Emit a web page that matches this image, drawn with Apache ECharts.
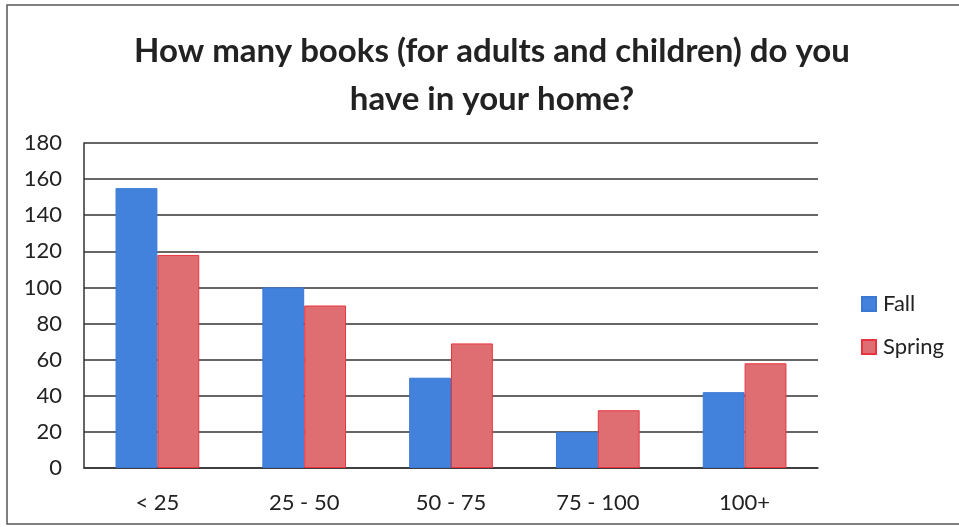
<!DOCTYPE html>
<html>
<head>
<meta charset="utf-8">
<script src="https://cdn.jsdelivr.net/npm/echarts@6/dist/echarts.min.js"></script>
<style>
html,body{margin:0;padding:0;background:#fff;}
#c{width:959px;height:527px;}
</style>
</head>
<body>
<div id="c"></div>
<script>
const categories = ['< 25', '25 - 50', '50 - 75', '75 - 100', '100+'];
const fallValues = [155, 100, 50, 20, 42];
const springValues = [118, 90, 69, 32, 58];
const yTicks = [0, 20, 40, 60, 80, 100, 120, 140, 160, 180];
const titleText = 'How many books (for adults and children) do you\nhave in your home?';

const chart = echarts.init(document.getElementById('c'));
const font = 'Lato, "Open Sans", sans-serif';
chart.setOption({
  animation: false,
  backgroundColor: '#fff',
  graphic: [{
    type: 'rect',
    shape: {x: 7, y: 5, width: 960, height: 519},
    style: {fill: 'none', stroke: '#555', lineWidth: 1.5},
    silent: true
  }],
  title: {
    text: titleText,
    left: 487,
    top: 22,
    textAlign: 'center',
    textStyle: {fontFamily: font, fontSize: 33, fontWeight: 'bold', color: '#222', lineHeight: 48}
  },
  legend: {
    orient: 'vertical',
    left: 856,
    top: 288,
    itemWidth: 14,
    itemHeight: 14,
    itemGap: 21,
    icon: 'rect',
    textStyle: {fontFamily: font, fontSize: 22, color: '#222', padding: [0, 0, 0, 2]},
    data: ['Fall', 'Spring']
  },
  grid: {left: 84, right: 141, top: 143, bottom: 59, containLabel: false},
  xAxis: {
    type: 'category',
    data: categories,
    axisLine: {lineStyle: {color: '#333', width: 1.5}},
    axisTick: {show: false},
    axisLabel: {fontFamily: font, fontSize: 22, color: '#222', margin: 24}
  },
  yAxis: {
    type: 'value',
    min: yTicks[0],
    max: yTicks[yTicks.length - 1],
    interval: 20,
    axisLine: {show: true, lineStyle: {color: '#333', width: 1.5}},
    axisTick: {show: false},
    splitLine: {lineStyle: {color: '#333', width: 1.5}},
    axisLabel: {fontFamily: font, fontSize: 22, color: '#222', margin: 22}
  },
  series: [{
    name: 'Fall',
    type: 'bar',
    data: fallValues,
    barGap: '0%',
    barCategoryGap: '43%',
    itemStyle: {color: '#4382dc', borderColor: '#3a78d6', borderWidth: 1}
  }, {
    name: 'Spring',
    type: 'bar',
    data: springValues,
    itemStyle: {color: '#df6e72', borderColor: '#e8343e', borderWidth: 1}
  }]
});
</script>
</body>
</html>
